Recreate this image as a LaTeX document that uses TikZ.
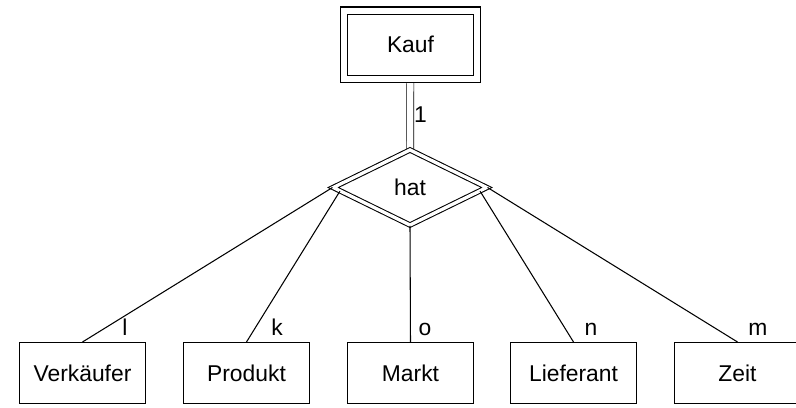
\documentclass[tikz,border=0pt]{standalone}
\usepackage{fontspec}
\setmainfont{Liberation Sans}
\usetikzlibrary{shapes.geometric, backgrounds}

\begin{document}
\begin{tikzpicture}[x=0.02cm, y=-0.02cm, line width=0.6pt, font=\fontsize{13}{15}\selectfont,
    entity/.style={draw, fill=white, rectangle, minimum width=2.52cm, minimum height=1.22cm, inner sep=0pt},
    weakentity/.style={draw, fill=white, rectangle, double, double distance=3.4pt, minimum width=2.66cm, minimum height=1.37cm, inner sep=0pt},
    relship/.style={draw, fill=white, diamond, double, double distance=1.9pt, minimum width=3.08cm, minimum height=1.51cm, inner sep=0pt},
    card/.style={anchor=base, inner sep=0pt}]
  \useasboundingbox (0,0) rectangle (796,407);
  % entities and relationship
  \node[weakentity] (kauf) at (410.5,44.75) {Kauf};
  \node[relship] (hat) at (410,187.5) {hat};
  \node[entity] (verk) at (82.5,373) {Verkäufer};
  \node[entity] (prod) at (246.5,373) {Produkt};
  \node[entity] (markt) at (410.5,373) {Markt};
  \node[entity] (lief) at (573.5,373) {Lieferant};
  \node[entity] (zeit) at (737.5,373) {Zeit};
  % connectors
  \begin{scope}[on background layer]
    \draw[double, double distance=3.6pt] (kauf) -- node[right, inner sep=2pt] {1} (hat);
  \end{scope}
  \draw (hat.west) -- (verk.north);
  \draw (hat.183) -- (prod.north);
  \draw (hat.south) -- (markt.north);
  \draw (hat.-3) -- (lief.north);
  \draw (hat.east) -- (zeit.north);
  % cardinalities
  \node[card] (cverk) at (125,335) {l};
  \node[card] (cprod) at (277,335) {k};
  \node[card] (cmarkt) at (425,335) {o};
  \node[card] (clief) at (591,335) {n};
  \node[card] (czeit) at (758,335) {m};
\end{tikzpicture}
\end{document}
